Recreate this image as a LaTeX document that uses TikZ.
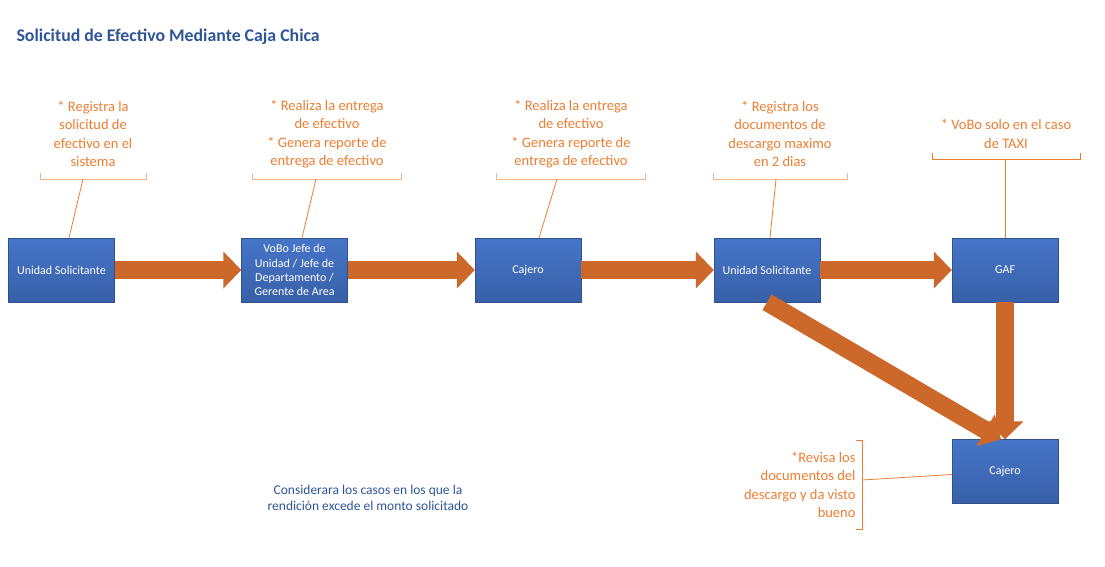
\documentclass[tikz,border=0pt]{standalone}
\usepackage{fontspec}
\setmainfont{Carlito}
\usepackage{tikz}
\usetikzlibrary{arrows.meta}

\definecolor{boxtop}{RGB}{70,117,200}
\definecolor{boxbot}{RGB}{56,96,168}
\definecolor{boxline}{RGB}{47,82,143}
\definecolor{flowcol}{RGB}{204,104,42}
\definecolor{notecol}{RGB}{237,125,49}
\definecolor{bracketcol}{RGB}{244,177,131}
\definecolor{titlecol}{RGB}{47,85,151}

\begin{document}
\begin{tikzpicture}[x=1pt,y=-1pt,
            main node/.style={rectangle,draw=boxline,top color=boxtop,bottom color=boxbot,
              minimum width=106pt,minimum height=64pt,inner sep=2pt,align=center,
              text=white,font=\fontsize{12}{14.2}\selectfont},
            note/.style={text=notecol,align=center,font=\fontsize{14.5}{18.5}\selectfont},
            bracket/.style={draw=bracketcol,line width=0.9pt},
            note line/.style={draw=notecol,line width=0.8pt},
            flow/.style={draw=flowcol,line width=18pt,-{Triangle[width=36pt,length=18pt]}}]

        \useasboundingbox (0,0) rectangle (1105,566);

        \node[anchor=west,text=titlecol,font=\fontsize{17.8}{21}\selectfont\bfseries] (title) at (13,37) {Solicitud de Efectivo Mediante Caja Chica};

        % boxes
        \node[main node] (us1) at (61.5,270) {Unidad Solicitante};
        \node[main node] (vb) at (294.5,270) {VoBo Jefe de\\Unidad / Jefe de\\Departamento /\\Gerente de Area};
        \node[main node] (cj1) at (528,270) {Cajero};
        \node[main node] (us2) at (767,270) {Unidad Solicitante};
        \node[main node] (gaf) at (1005,270) {GAF};
        \node[main node] (cj2) at (1005,471.5) {Cajero};

        % notes
        \node[note] (n1) at (93,134) {* Registra la\\solicitud de\\efectivo en el\\sistema};
        \node[note] (n2) at (327,134) {* Realiza la entrega\\de efectivo\\* Genera reporte de\\entrega de efectivo};
        \node[note] (n3) at (571,134) {* Realiza la entrega\\de efectivo\\* Genera reporte de\\entrega de efectivo};
        \node[note] (n4) at (780,134) {* Registra los\\documentos de\\descargo maximo\\en 2 dias};
        \node[note] (n5) at (1006,134) {* VoBo solo en el caso\\de TAXI};
        \node[note,anchor=east,align=right] (n6) at (859,485) {*Revisa los\\documentos del\\descargo y da visto\\bueno};

        \node[text=titlecol,align=center,font=\fontsize{13.5}{16}\selectfont] (obs) at (368,497.5) {Considerara los casos en los que la\\rendición excede el monto solicitado};

        % brackets
        \draw[bracket] (40,173) |- (146,179) -- (146,173);
        \draw[bracket] (252,173) |- (401,179) -- (401,173);
        \draw[bracket] (496,173) |- (645,179) -- (645,173);
        \draw[bracket] (713,173) |- (847,179) -- (847,173);
        \draw[note line] (932,153) |- (1080,159) -- (1080,153);
        \draw[note line] (856,440) -| (862,529) -- (856,529);

        \coordinate (c1) at (83,179);
        \coordinate (c2) at (316,179);
        \coordinate (c3) at (557,179);
        \coordinate (c4) at (776,179);
        \coordinate (c5) at (1005,159);
        \coordinate (c6) at (862,480);

        \draw[note line] (c1) -- ([xshift=7.5pt]us1.north);
        \draw[note line] (c2) -- ([xshift=7.5pt]vb.north);
        \draw[note line] (c3) -- ([xshift=11pt]cj1.north);
        \draw[note line] (c4) -- ([xshift=3pt]us2.north);
        \draw[note line] (c5) -- (gaf.north);
        \draw[note line] (c6) -- ([yshift=-3pt]cj2.west);

        % flow
        \path (us1) edge[flow] (vb)
              (vb) edge[flow] (cj1)
              (cj1) edge[flow] (us2)
              (us2) edge[flow] (gaf)
              (gaf) edge[flow] (cj2)
              (us2.south) edge[flow] ([xshift=-4pt]cj2.north);
    \end{tikzpicture}
\end{document}
